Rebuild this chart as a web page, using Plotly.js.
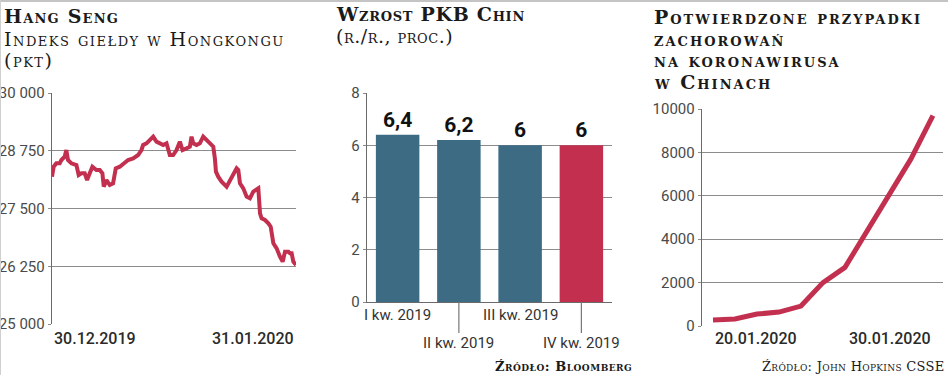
<!DOCTYPE html>
<html>
<head>
<meta charset="utf-8">
<script src="https://cdn.plot.ly/plotly-3.0.1.min.js"></script>
<style>html,body{margin:0;padding:0;background:#fff;}#chart{width:948px;height:375px;}</style>
</head>
<body>
<div id="chart"></div>
<script>
// ---- Panel 1: Hang Seng (days since 30.12.2019, index points)
var hsDays = [0,0.22,0.57,1.01,1.23,1.66,1.88,2.10,2.54,3.20,3.50,3.85,4.29,4.60,4.95,5.30,5.82,6.26,6.61,6.79,7.14,7.57,8.01,8.36,8.89,9.54,9.98,10.64,11.30,11.73,11.95,12.39,12.83,13.27,13.70,14.14,14.58,15.02,15.45,15.89,16.33,16.77,17.12,17.64,18.08,18.30,18.52,18.96,19.39,19.83,20.27,20.71,21.15,21.36,21.50,21.80,22.24,22.90,23.34,23.77,24.21,24.43,24.65,25.09,25.52,25.96,26.40,27.06,27.28,27.49,27.93,28.37,28.68,29.03,29.46,29.90,30.25,30.56,31.00,31.21,31.43,31.65,32.00];
var hsValues = [28189,28405,28478,28478,28550,28622,28766,28550,28478,28442,28225,28261,28261,28117,28261,28405,28333,28333,28261,27973,28117,28009,28045,28369,28405,28478,28550,28586,28658,28766,28874,28911,28983,29055,28947,28911,28874,28911,28658,28658,28766,28947,28766,28802,28838,29055,28911,28874,28911,29055,28983,28911,28838,28586,28297,28189,28081,27973,28117,28261,28369,28333,28045,27936,27756,27720,27864,27936,27395,27287,27251,27179,27107,26746,26638,26457,26349,26566,26566,26530,26530,26349,26277];
var hsTicks = [25000,26250,27500,28750,30000];
var hsDateLabels = ['30.12.2019','31.01.2020'];

// ---- Panel 2: GDP growth
var gdpCategories = ['I kw. 2019','II kw. 2019','III kw. 2019','IV kw. 2019'];
var gdpValues = [6.4,6.2,6,6];
var gdpTicks = [0,2,4,6,8];

// ---- Panel 3: confirmed cases
var covidDates = ['2020-01-20','2020-01-21','2020-01-22','2020-01-23','2020-01-24','2020-01-25','2020-01-26','2020-01-27','2020-01-28','2020-01-29','2020-01-30'];
var covidCases = [280,320,550,640,920,2000,2700,4400,6000,7700,9700];
var covidTicks = [0,2000,4000,6000,8000,10000];
var covidDateLabels = ['20.01.2020','30.01.2020'];

var W = 948, H = 375;
function px(x){return x/W;}
function py(y){return 1 - y/H;}

var RED = '#c3304f', TEAL = '#3c6b83', GRID = '#8c8c8c', AXIS = '#6a6a6a';
var tickFont = {family:'Roboto, "DejaVu Sans", sans-serif', size:15, color:'#4a4a4a'};
var serif = 'DejaVu Serif';

var traces = [
  {x: hsDays, y: hsValues, xaxis:'x', yaxis:'y', type:'scatter', mode:'lines',
   line:{color:RED, width:4, shape:'linear'}, hoverinfo:'skip'},
  {x: [0,1,2,3], y: gdpValues, xaxis:'x2', yaxis:'y2', type:'bar',
   marker:{color: gdpValues.map(function(v,i){return i===3?RED:TEAL;})},
   text: gdpValues.map(function(v){return String(v).replace('.', ',');}),
   textposition:'outside', cliponaxis:false,
   textfont:{family:'Roboto, "DejaVu Sans", sans-serif', size:21, color:'#111', weight:'bold'},
   hoverinfo:'skip'},
  {x: covidDates, y: covidCases, xaxis:'x3', yaxis:'y3', type:'scatter', mode:'lines',
   line:{color:RED, width:5}, hoverinfo:'skip'}
];

function yax(domain, range, tickvals, fmt){
  return {domain:domain, range:range, tickvals:tickvals, tickformat:fmt, showgrid:true, gridcolor:GRID, gridwidth:1,
    showline:true, linecolor:AXIS, linewidth:1.3, zeroline:false, ticks:'outside', ticklen:3, tickcolor:GRID,
    tickfont:tickFont, fixedrange:true};
}

var annotations = [];
function ann(text, x, y, xanchor, yanchor, font, xref, yref){
  annotations.push({text:text, x:x, y:y, xref:xref||'paper', yref:yref||'paper', xanchor:xanchor, yanchor:yanchor,
    showarrow:false, font:font, align: xanchor==='right'?'right':'left'});
}
function sp(text, ls){ return '<span style="letter-spacing:' + ls + 'px">' + text + '</span>'; }
var titleBold = {family:serif, size:19, color:'#1a1a1a', weight:'bold', variant:'small-caps'};
var titleReg = {family:serif, size:19, color:'#1a1a1a', variant:'small-caps'};

// Titles panel 1
ann(sp('Hang Seng',1.2), px(2), py(15.5), 'left', 'middle', titleBold);
ann(sp('Indeks giełdy w Hongkongu',1.5), px(2), py(39), 'left', 'middle', titleReg);
ann(sp('(pkt)',1.5), px(2), py(59.5), 'left', 'middle', titleReg);
// Titles panel 2
ann(sp('Wzrost PKB Chin',0.7), px(334), py(14.5), 'left', 'middle', titleBold);
ann(sp('(r./r., proc.)',0.5), px(334), py(35.5), 'left', 'middle', titleReg);
// Titles panel 3
ann(sp('Potwierdzone przypadki',2), px(652), py(17), 'left', 'middle', titleBold);
ann(sp('zachorowań',2), px(652), py(38.5), 'left', 'middle', titleBold);
ann(sp('na koronawirusa',2), px(652), py(60), 'left', 'middle', titleBold);
ann(sp('w Chinach',2), px(652), py(82), 'left', 'middle', titleBold);

var dateFont = {family:'Roboto, "DejaVu Sans", sans-serif', size:16, color:'#2a2a2a', weight:500};
ann(hsDateLabels[0], hsDays[0], py(338), 'left', 'middle', dateFont, 'x', 'paper');
ann(hsDateLabels[1], hsDays[hsDays.length-1], py(338), 'right', 'middle', dateFont, 'x', 'paper');
ann(covidDateLabels[0], covidDates[0], py(338), 'left', 'middle', dateFont, 'x3', 'paper');
ann(covidDateLabels[1], covidDates[covidDates.length-1], py(338), 'right', 'middle', dateFont, 'x3', 'paper');

// GDP category labels (staggered)
var catFont = {family:'Roboto, "DejaVu Sans", sans-serif', size:15, color:'#333'};
var shapes = [];
gdpCategories.forEach(function(c,i){
  var low = (i%2===1);
  ann(c, i, py(low?343:315), 'center', 'middle', catFont, 'x2', 'paper');
  if(low){
    shapes.push({type:'line', xref:'x2', yref:'paper', x0:i, x1:i, y0:py(302), y1:py(333), line:{color:'#777', width:1.2}});
  }
});

var srcFont = {family:serif, size:13, color:'#1a1a1a', variant:'small-caps', weight:'bold'};
ann(sp('Źródło: Bloomberg',0.5), px(634), py(366), 'right', 'middle', srcFont);
ann(sp('Źródło: John Hopkins CSSE',0.3), px(947), py(366), 'right', 'middle', {family:serif, size:13, color:'#1a1a1a', variant:'small-caps'});

// border lines
shapes.push({type:'line', xref:'paper', yref:'paper', x0:0, x1:1, y0:py(1), y1:py(1), line:{color:'#c4c4c4', width:2}});
shapes.push({type:'line', xref:'paper', yref:'paper', x0:px(0.5), x1:px(0.5), y0:0, y1:1, line:{color:'#d0d0d0', width:1}});

var layout = {
  width:W, height:H, margin:{l:0,r:0,t:0,b:0}, paper_bgcolor:'#fff', plot_bgcolor:'rgba(0,0,0,0)',
  showlegend:false, separators:', ',
  xaxis:{domain:[px(52),px(296)], range:[0,32], showgrid:false, zeroline:false, showticklabels:false, showline:false, fixedrange:true},
  yaxis:yax([py(324),py(93)],[25000,30000],hsTicks,',d'),
  xaxis2:{domain:[px(367),px(612)], range:[-0.5,3.5], showgrid:false, zeroline:false, showticklabels:false,
    showline:true, linecolor:AXIS, linewidth:1.3, fixedrange:true, anchor:'y2'},
  yaxis2:yax([py(302),py(93)],[0,8],gdpTicks,'d'),
  xaxis3:{domain:[px(702),px(943)], type:'date', range:['2020-01-19 12:00','2020-01-30 11:00'], showgrid:false, zeroline:false,
    showticklabels:false, showline:false, fixedrange:true, anchor:'y3'},
  yaxis3:yax([py(326),py(109)],[0,10000],covidTicks,'d'),
  bargap:0.29,
  annotations:annotations, shapes:shapes
};
layout.yaxis.anchor='x'; layout.yaxis2.anchor='x2'; layout.yaxis3.anchor='x3';
layout.xaxis.anchor='y';

Plotly.newPlot('chart', traces, layout, {displayModeBar:false, staticPlot:true});
</script>
</body>
</html>
